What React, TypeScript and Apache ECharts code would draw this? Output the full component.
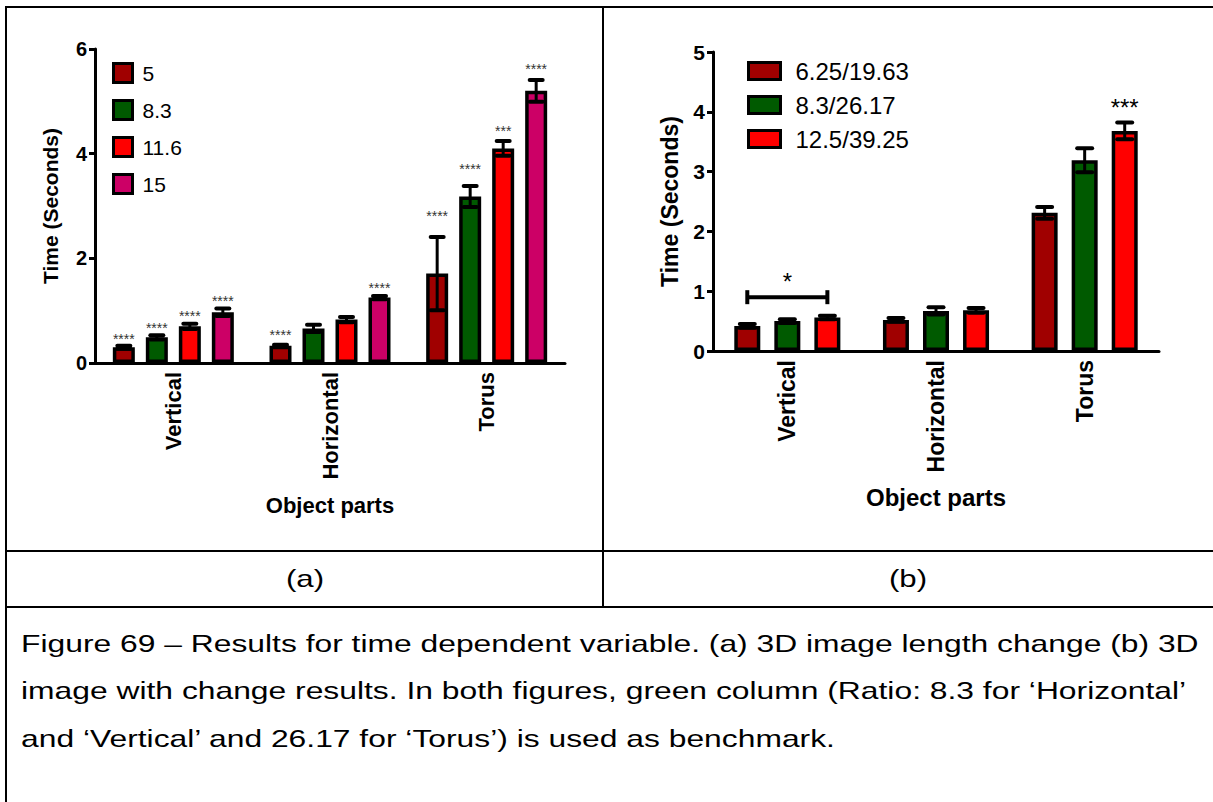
import React, { useEffect, useRef } from "react";
import * as echarts from "echarts";

const FONT = '"Liberation Sans", Arial, sans-serif';

const categories = ["Vertical", "Horizontal", "Torus"];

// Panel (a)
const leftNames = ["5", "8.3", "11.6", "15"];
const leftColors = ["#A00000", "#005A00", "#FF0000", "#CC0066"];
const leftMeans = [
  [0.3, 0.33, 1.71],
  [0.49, 0.66, 3.18],
  [0.7, 0.83, 4.1],
  [0.97, 1.25, 5.2],
];
const leftErrors = [
  [0.03, 0.02, 0.7],
  [0.04, 0.07, 0.2],
  [0.05, 0.05, 0.14],
  [0.07, 0.03, 0.21],
];
const leftStarText = [
  ["****", "****", "****"],
  ["****", "", "****"],
  ["****", "", "***"],
  ["****", "****", "****"],
];
const leftStarY = [
  [0.52, 0.59, 2.87],
  [0.73, 0, 3.77],
  [0.96, 0, 4.5],
  [1.25, 1.49, 5.67],
];

// Panel (b)
const rightNames = ["6.25/19.63", "8.3/26.17", "12.5/39.25"];
const rightColors = ["#A00000", "#005A00", "#FF0000"];
const rightMeans = [
  [0.42, 0.52, 2.31],
  [0.5, 0.67, 3.19],
  [0.56, 0.68, 3.68],
];
const rightErrors = [
  [0.03, 0.03, 0.1],
  [0.03, 0.06, 0.2],
  [0.03, 0.04, 0.14],
];
const rightStarText = [
  ["", "", ""],
  ["*", "", ""],
  ["", "", "***"],
];
const rightStarY = [
  [0, 0, 0],
  [1.24, 0, 0],
  [0, 0, 4.16],
];
// bracket: [category index, y value, from series, to series]
const rightBracket = [[0, 0.9, 0, 2]];

const captionLines = [
  "Figure 69 \u2013 Results for time dependent variable. (a) 3D image length change (b) 3D",
  "image with change results. In both figures, green column (Ratio: 8.3 for \u2018Horizontal\u2019",
  "and \u2018Vertical\u2019 and 26.17 for \u2018Torus\u2019) is used as benchmark.",
];
const panelLabels = ["(a)", "(b)"];

function errorRender(n: number, pitch: number, capHalf: number) {
  return (params: any, api: any) => {
    const cat = api.value(0);
    const mean = api.value(1);
    const err = api.value(2);
    const s = api.value(3);
    const off = (s - (n - 1) / 2) * pitch;
    const top = api.coord([cat, mean + err]);
    const bot = api.coord([cat, mean - err]);
    const x = top[0] + off;
    return {
      type: "group",
      children: [
        { type: "line", shape: { x1: x, y1: top[1], x2: x, y2: bot[1] }, style: { stroke: "#000", lineWidth: 3 } },
        { type: "line", shape: { x1: x - capHalf, y1: top[1], x2: x + capHalf, y2: top[1] }, style: { stroke: "#000", lineWidth: 4, lineCap: "round" } },
        { type: "line", shape: { x1: x - capHalf, y1: bot[1], x2: x + capHalf, y2: bot[1] }, style: { stroke: "#000", lineWidth: 4, lineCap: "round" } },
      ],
    };
  };
}

function starEntries(texts: string[][], ys: number[][]) {
  const out: { cat: number; y: number; s: number; text: string }[] = [];
  texts.forEach((row, s) =>
    row.forEach((t, cat) => {
      if (t) out.push({ cat, y: ys[s][cat], s, text: t });
    })
  );
  return out;
}

function starRender(entries: any[], n: number, pitch: number, fontSize: number, color: string, dy: number) {
  return (params: any, api: any) => {
    const e = entries[params.dataIndex];
    const p = api.coord([api.value(0), api.value(1)]);
    const off = (e.s - (n - 1) / 2) * pitch;
    return {
      type: "text",
      style: {
        text: e.text,
        x: p[0] + off,
        y: p[1] + dy,
        align: "center",
        verticalAlign: "middle",
        fontSize,
        fontFamily: FONT,
        fill: color,
      },
    };
  };
}

function bracketRender(n: number, pitch: number) {
  return (params: any, api: any) => {
    const p = api.coord([api.value(0), api.value(1)]);
    const x1 = p[0] + (api.value(2) - (n - 1) / 2) * pitch;
    const x2 = p[0] + (api.value(3) - (n - 1) / 2) * pitch;
    const st = { stroke: "#000", lineWidth: 4 };
    return {
      type: "group",
      children: [
        { type: "line", shape: { x1, y1: p[1], x2, y2: p[1] }, style: st },
        { type: "line", shape: { x1, y1: p[1] - 7, x2: x1, y2: p[1] + 7 }, style: st },
        { type: "line", shape: { x1: x2, y1: p[1] - 7, x2, y2: p[1] + 7 }, style: st },
      ],
    };
  };
}

export default function App() {
  const ref = useRef<HTMLDivElement>(null);
  useEffect(() => {
    if (!ref.current) return;
    const chart = echarts.init(ref.current, undefined, { renderer: "svg" });

    const LW = 22, LG = 0.5, LP = LW * (1 + LG);
    const RW = 26, RG = 0.54, RP = RW * (1 + RG);

    const axisX = (grid: number, nameGap: number, labelSize: number, nameSize: number) => ({
      gridIndex: grid,
      type: "category",
      data: categories,
      axisLine: { lineStyle: { color: "#000", width: 3 } },
      axisTick: { alignWithLabel: true, length: 6, lineStyle: { color: "#000", width: 3 } },
      axisLabel: { rotate: 90, fontSize: labelSize, fontWeight: "bold", color: "#000", margin: 9, fontFamily: FONT },
      name: "Object parts",
      nameLocation: "middle",
      nameGap,
      nameTextStyle: { fontSize: nameSize, fontWeight: "bold", color: "#000", fontFamily: FONT },
    });
    const axisY = (grid: number, max: number, interval: number, tickSize: number, nameSize: number, nameGap: number) => ({
      gridIndex: grid,
      type: "value",
      min: 0,
      max,
      interval,
      splitLine: { show: false },
      axisLine: { show: true, lineStyle: { color: "#000", width: 3 } },
      axisTick: { show: true, length: 6, lineStyle: { color: "#000", width: 3 } },
      axisLabel: { fontSize: tickSize, fontWeight: "bold", color: "#000", margin: 8, fontFamily: FONT },
      name: "Time (Seconds)",
      nameLocation: "middle",
      nameRotate: 90,
      nameGap,
      nameTextStyle: { fontSize: nameSize, fontWeight: "bold", color: "#000", fontFamily: FONT },
    });

    const series: any[] = [];
    leftNames.forEach((name, s) => {
      series.push({
        type: "bar",
        name,
        xAxisIndex: 0,
        yAxisIndex: 0,
        data: leftMeans[s],
        barWidth: LW,
        barGap: LG * 100 + "%",
        itemStyle: { color: leftColors[s], borderColor: "#000", borderWidth: 3.5 },
      });
    });
    rightNames.forEach((name, s) => {
      series.push({
        type: "bar",
        name,
        xAxisIndex: 1,
        yAxisIndex: 1,
        data: rightMeans[s],
        barWidth: RW,
        barGap: RG * 100 + "%",
        itemStyle: { color: rightColors[s], borderColor: "#000", borderWidth: 3.5 },
      });
    });

    const leftErr: number[][] = [];
    leftMeans.forEach((row, s) => row.forEach((m, c) => leftErr.push([c, m, leftErrors[s][c], s])));
    const rightErr: number[][] = [];
    rightMeans.forEach((row, s) => row.forEach((m, c) => rightErr.push([c, m, rightErrors[s][c], s])));

    series.push({
      type: "custom",
      xAxisIndex: 0,
      yAxisIndex: 0,
      z: 5,
      data: leftErr,
      renderItem: errorRender(leftNames.length, LP, 6.5),
    });
    series.push({
      type: "custom",
      xAxisIndex: 1,
      yAxisIndex: 1,
      z: 5,
      data: rightErr,
      renderItem: errorRender(rightNames.length, RP, 7.5),
    });

    const lStars = starEntries(leftStarText, leftStarY);
    const rStars = starEntries(rightStarText, rightStarY);
    series.push({
      type: "custom",
      xAxisIndex: 0,
      yAxisIndex: 0,
      z: 6,
      data: lStars.map((e) => [e.cat, e.y]),
      renderItem: starRender(lStars, leftNames.length, LP, 14, "#333", 3),
    });
    series.push({
      type: "custom",
      xAxisIndex: 1,
      yAxisIndex: 1,
      z: 6,
      data: rStars.map((e) => [e.cat, e.y]),
      renderItem: starRender(rStars, rightNames.length, RP, 24, "#000", 5),
    });
    series.push({
      type: "custom",
      xAxisIndex: 1,
      yAxisIndex: 1,
      z: 6,
      data: rightBracket,
      renderItem: bracketRender(rightNames.length, RP),
    });

    const line = (x1: number, y1: number, x2: number, y2: number) => ({
      type: "line",
      shape: { x1, y1, x2, y2 },
      style: { stroke: "#000", lineWidth: 2 },
    });

    const graphic: any[] = [
      line(5, 7, 1213, 7),
      line(6, 7, 6, 802),
      line(603, 7, 603, 607),
      line(5, 551, 1213, 551),
      line(5, 607, 1213, 607),
      {
        type: "text",
        x: 305,
        y: 579,
        scaleX: 1.3,
        style: { text: panelLabels[0], align: "center", verticalAlign: "middle", fontSize: 24, fontFamily: FONT, fill: "#000" },
      },
      {
        type: "text",
        x: 908,
        y: 579,
        scaleX: 1.3,
        style: { text: panelLabels[1], align: "center", verticalAlign: "middle", fontSize: 24, fontFamily: FONT, fill: "#000" },
      },
      ...captionLines.map((t, i) => ({
        type: "text",
        x: 21,
        y: 643 + i * 47.5,
        scaleX: 1.326,
        style: { text: t, align: "left", verticalAlign: "middle", fontSize: 24, fontFamily: FONT, fill: "#000" },
      })),
    ];

    chart.setOption({
      animation: false,
      backgroundColor: "#fff",
      textStyle: { fontFamily: FONT },
      grid: [
        { left: 95, top: 49, width: 470, height: 314 },
        { left: 713, top: 52, width: 446, height: 299 },
      ],
      xAxis: [axisX(0, 131, 22, 22), axisX(1, 134, 23, 24)],
      yAxis: [axisY(0, 6, 2, 20, 21, 34), axisY(1, 5, 1, 21, 23, 32)],
      legend: [
        {
          data: leftNames,
          orient: "vertical",
          left: 112,
          top: 62,
          padding: 0,
          itemWidth: 19,
          itemHeight: 19,
          itemGap: 15,
          icon: "rect",
          selectedMode: false,
          itemStyle: { borderColor: "#000", borderWidth: 3 },
          textStyle: { fontSize: 21, lineHeight: 21, color: "#000", fontFamily: FONT, padding: [0, 0, 0, 5] },
        },
        {
          data: rightNames,
          orient: "vertical",
          left: 747,
          top: 59,
          padding: 0,
          itemWidth: 32,
          itemHeight: 17,
          itemGap: 10,
          icon: "rect",
          selectedMode: false,
          itemStyle: { borderColor: "#000", borderWidth: 3 },
          textStyle: { fontSize: 24, lineHeight: 24, color: "#000", fontFamily: FONT, padding: [0, 0, 0, 10] },
        },
      ],
      series,
      graphic,
    });
    return () => chart.dispose();
  }, []);
  return (
    <div
      ref={ref}
      style={{ position: "absolute", left: 0, top: 0, width: 1213, height: 802, background: "#fff" }}
    />
  );
}
